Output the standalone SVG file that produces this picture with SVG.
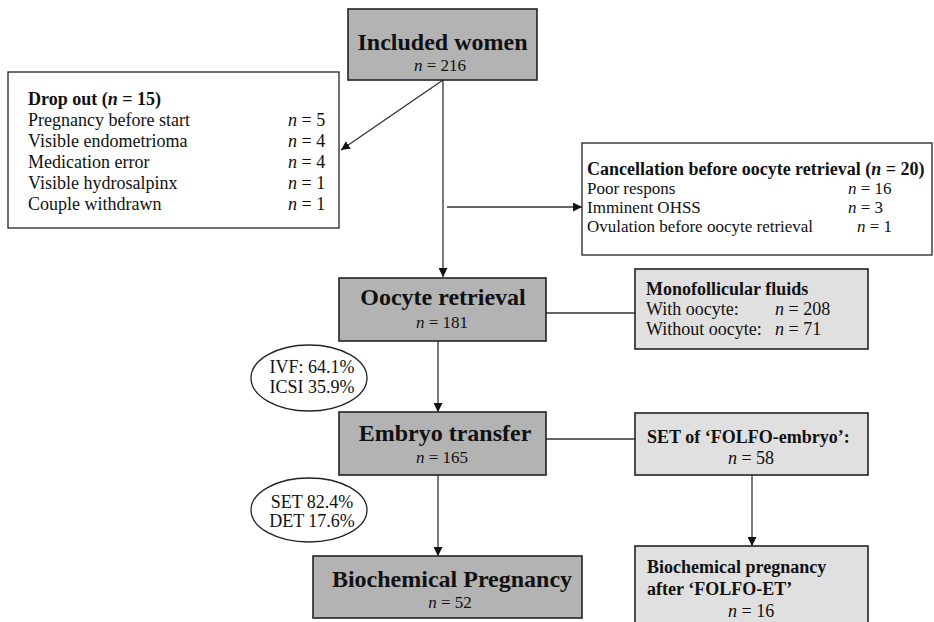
<svg xmlns="http://www.w3.org/2000/svg" width="934" height="622" viewBox="0 0 934 622">
  <defs>
    <marker id="arrow" viewBox="0 0 10 10" refX="10" refY="5" markerWidth="9" markerHeight="9" markerUnits="userSpaceOnUse" orient="auto">
      <path d="M0,0 L10,5 L0,10 Z" fill="#111"/>
    </marker>
    <style>
      text { font-family: "Liberation Serif", "Times New Roman", serif; fill: #111; }
      .dark { fill: #b3b3b3; stroke: #222; stroke-width: 1.6; }
      .light { fill: #e0e0e0; stroke: #222; stroke-width: 1.6; }
      .plain { fill: #fff; stroke: #222; stroke-width: 1.3; }
      .title { font-size: 24px; font-weight: bold; text-anchor: middle; }
      .count { font-size: 17px; text-anchor: middle; }
      .head { font-size: 18px; font-weight: bold; }
      .body { font-size: 18px; }
      .tight { font-size: 17px; }
      .mid { text-anchor: middle; }
      .it { font-style: italic; }
      .conn { stroke: #333; stroke-width: 1.3; fill: none; }
    </style>
  </defs>

  <g id="connectors">
    <line class="conn" x1="443" y1="80" x2="443" y2="277" marker-end="url(#arrow)"/>
    <line class="conn" x1="443" y1="80" x2="341" y2="150" marker-end="url(#arrow)"/>
    <line class="conn" x1="447" y1="207" x2="582" y2="207" marker-end="url(#arrow)"/>
    <line class="conn" x1="546" y1="313" x2="635" y2="313"/>
    <line class="conn" x1="438" y1="341" x2="438" y2="412" marker-end="url(#arrow)"/>
    <line class="conn" x1="546" y1="439" x2="635" y2="439"/>
    <line class="conn" x1="438" y1="475" x2="438" y2="556" marker-end="url(#arrow)"/>
    <line class="conn" x1="752" y1="475" x2="752" y2="546" marker-end="url(#arrow)"/>
  </g>

  <g id="included">
    <rect class="dark" x="348" y="9" width="189" height="71"/>
    <text class="title" x="442.5" y="50">Included women</text>
    <text class="count" x="440" y="71"><tspan class="it">n</tspan> = 216</text>
  </g>

  <g id="dropout">
    <rect class="plain" x="8" y="72" width="331" height="156"/>
    <text class="head" x="28" y="105">Drop out (<tspan class="it">n</tspan> = 15)</text>
    <text class="body" x="28" y="126">Pregnancy before start</text>
    <text class="body" x="28" y="147">Visible endometrioma</text>
    <text class="body" x="28" y="168">Medication error</text>
    <text class="body" x="28" y="189">Visible hydrosalpinx</text>
    <text class="body" x="28" y="210">Couple withdrawn</text>
    <text class="body" x="288" y="126"><tspan class="it">n</tspan> = 5</text>
    <text class="body" x="288" y="147"><tspan class="it">n</tspan> = 4</text>
    <text class="body" x="288" y="168"><tspan class="it">n</tspan> = 4</text>
    <text class="body" x="288" y="189"><tspan class="it">n</tspan> = 1</text>
    <text class="body" x="288" y="210"><tspan class="it">n</tspan> = 1</text>
  </g>

  <g id="cancellation">
    <rect class="plain" x="582" y="143" width="350" height="112"/>
    <text class="head" x="587" y="175">Cancellation before oocyte retrieval (<tspan class="it">n</tspan> = 20)</text>
    <text class="tight" x="587" y="194">Poor respons</text>
    <text class="tight" x="587" y="213">Imminent OHSS</text>
    <text class="tight" x="587" y="232">Ovulation before oocyte retrieval</text>
    <text class="tight" x="848" y="194"><tspan class="it">n</tspan> = 16</text>
    <text class="tight" x="848" y="213"><tspan class="it">n</tspan> = 3</text>
    <text class="tight" x="857" y="232"><tspan class="it">n</tspan> = 1</text>
  </g>

  <g id="retrieval">
    <rect class="dark" x="339" y="278" width="207" height="63"/>
    <text class="title" x="443" y="305">Oocyte retrieval</text>
    <text class="count" x="442" y="328"><tspan class="it">n</tspan> = 181</text>
  </g>

  <g id="fluids">
    <rect class="light" x="635" y="269" width="233" height="80"/>
    <text class="head" x="646" y="295">Monofollicular fluids</text>
    <text class="body" x="646" y="315">With oocyte:</text>
    <text class="body" x="646" y="335">Without oocyte:</text>
    <text class="body" x="775" y="315"><tspan class="it">n</tspan> = 208</text>
    <text class="body" x="775" y="335"><tspan class="it">n</tspan> = 71</text>
  </g>

  <g id="method">
    <ellipse class="plain" cx="309" cy="378" rx="58" ry="33"/>
    <text class="body mid" x="312" y="373">IVF: 64.1%</text>
    <text class="body mid" x="312" y="393">ICSI 35.9%</text>
  </g>

  <g id="transfer">
    <rect class="dark" x="339" y="412" width="207" height="63"/>
    <text class="title" x="445" y="441">Embryo transfer</text>
    <text class="count" x="442" y="463"><tspan class="it">n</tspan> = 165</text>
  </g>

  <g id="folfo-set">
    <rect class="light" x="635" y="413" width="233" height="62"/>
    <text class="head" x="647" y="443">SET of ‘FOLFO-embryo’:</text>
    <text class="body mid" x="751" y="464"><tspan class="it">n</tspan> = 58</text>
  </g>

  <g id="transfer-type">
    <ellipse class="plain" cx="309" cy="510" rx="58" ry="32"/>
    <text class="body mid" x="312" y="508">SET 82.4%</text>
    <text class="body mid" x="312" y="527">DET 17.6%</text>
  </g>

  <g id="pregnancy">
    <rect class="dark" x="313" y="556" width="269" height="62"/>
    <text class="title" x="452" y="587">Biochemical Pregnancy</text>
    <text class="count" x="450" y="608"><tspan class="it">n</tspan> = 52</text>
  </g>

  <g id="folfo-pregnancy">
    <rect class="light" x="635" y="546" width="233" height="90"/>
    <text class="head" x="647" y="573">Biochemical pregnancy</text>
    <text class="head" x="647" y="595">after ‘FOLFO-ET’</text>
    <text class="body" x="728" y="617"><tspan class="it">n</tspan> = 16</text>
  </g>
</svg>
